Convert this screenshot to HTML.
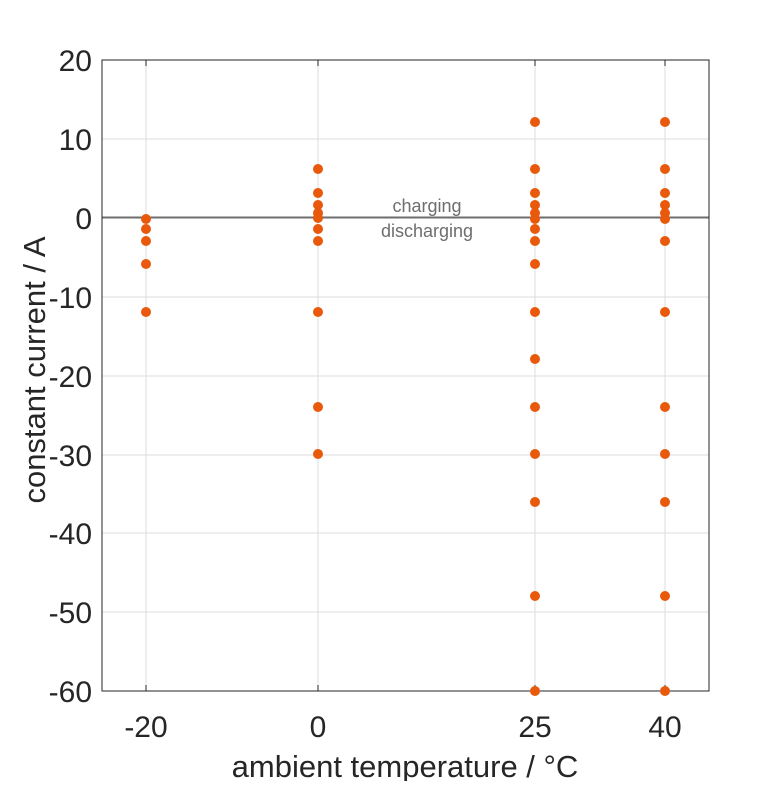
<!DOCTYPE html>
<html><head><meta charset="utf-8"><style>body{margin:0;background:#fff}</style></head><body>
<svg width="781" height="781" viewBox="0 0 781 781" xmlns="http://www.w3.org/2000/svg" font-family="Liberation Sans, sans-serif">
<rect width="781" height="781" fill="#fff"/>
<g stroke="#dedede" stroke-width="1">
<line x1="146" y1="60" x2="146" y2="691"/><line x1="318" y1="60" x2="318" y2="691"/><line x1="535" y1="60" x2="535" y2="691"/><line x1="665" y1="60" x2="665" y2="691"/>
<line x1="102" y1="139" x2="709" y2="139"/><line x1="102" y1="297" x2="709" y2="297"/><line x1="102" y1="376" x2="709" y2="376"/><line x1="102" y1="455" x2="709" y2="455"/><line x1="102" y1="533" x2="709" y2="533"/><line x1="102" y1="612" x2="709" y2="612"/>
</g>
<line x1="102" y1="217.5" x2="709" y2="217.5" stroke="#6e6e6e" stroke-width="2"/>
<rect x="102" y="60" width="607" height="631" fill="none" stroke="#262626" stroke-width="1"/>
<g stroke="#262626" stroke-width="1">
<line x1="146" y1="691" x2="146" y2="685"/><line x1="318" y1="691" x2="318" y2="685"/><line x1="535" y1="691" x2="535" y2="685"/><line x1="665" y1="691" x2="665" y2="685"/>
<line x1="146" y1="60" x2="146" y2="66"/><line x1="318" y1="60" x2="318" y2="66"/><line x1="535" y1="60" x2="535" y2="66"/><line x1="665" y1="60" x2="665" y2="66"/>
</g>
<g font-size="30" fill="#262626" text-anchor="end">
<text x="92" y="71">20</text><text x="92" y="150">10</text><text x="92" y="229">0</text><text x="92" y="308">-10</text><text x="92" y="387">-20</text><text x="92" y="466">-30</text><text x="92" y="544">-40</text><text x="92" y="623">-50</text><text x="92" y="702">-60</text>
</g>
<g font-size="30" fill="#262626" text-anchor="middle">
<text x="146" y="737">-20</text><text x="318" y="737">0</text><text x="535" y="737">25</text><text x="665" y="737">40</text>
</g>
<g font-size="31" fill="#262626" text-anchor="middle">
<text x="405" y="777">ambient temperature / °C</text>
<text transform="translate(45,370) rotate(-90)">constant current / A</text>
</g>
<g font-size="18" fill="#6e6e6e" text-anchor="middle">
<text x="427" y="212">charging</text><text x="427" y="237">discharging</text>
</g>
<g fill="#e8590c">
<circle cx="146" cy="219" r="5"/><circle cx="146" cy="229" r="5"/><circle cx="146" cy="241" r="5"/><circle cx="146" cy="264" r="5"/><circle cx="146" cy="312" r="5"/>
<circle cx="318" cy="169" r="5"/><circle cx="318" cy="193" r="5"/><circle cx="318" cy="205" r="5"/><circle cx="318" cy="213" r="5"/><circle cx="318" cy="218" r="5"/><circle cx="318" cy="229" r="5"/><circle cx="318" cy="241" r="5"/><circle cx="318" cy="312" r="5"/><circle cx="318" cy="407" r="5"/><circle cx="318" cy="454" r="5"/>
<circle cx="535" cy="122" r="5"/><circle cx="535" cy="169" r="5"/><circle cx="535" cy="193" r="5"/><circle cx="535" cy="205" r="5"/><circle cx="535" cy="213" r="5"/><circle cx="535" cy="219" r="5"/><circle cx="535" cy="229" r="5"/><circle cx="535" cy="241" r="5"/><circle cx="535" cy="264" r="5"/><circle cx="535" cy="312" r="5"/><circle cx="535" cy="359" r="5"/><circle cx="535" cy="407" r="5"/><circle cx="535" cy="454" r="5"/><circle cx="535" cy="502" r="5"/><circle cx="535" cy="596" r="5"/><circle cx="535" cy="691" r="5"/>
<circle cx="665" cy="122" r="5"/><circle cx="665" cy="169" r="5"/><circle cx="665" cy="193" r="5"/><circle cx="665" cy="205" r="5"/><circle cx="665" cy="213" r="5"/><circle cx="665" cy="219" r="5"/><circle cx="665" cy="241" r="5"/><circle cx="665" cy="312" r="5"/><circle cx="665" cy="407" r="5"/><circle cx="665" cy="454" r="5"/><circle cx="665" cy="502" r="5"/><circle cx="665" cy="596" r="5"/><circle cx="665" cy="691" r="5"/>
</g>
</svg>
</body></html>
